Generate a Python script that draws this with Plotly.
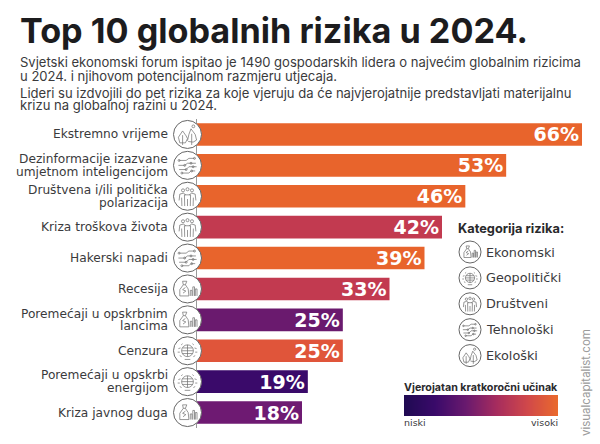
import plotly.graph_objects as go

W, H = 600, 444

rizici = [
    "Ekstremno vrijeme",
    "Dezinformacije izazvane\numjetnom inteligencijom",
    "Društvena i/ili politička\npolarizacija",
    "Kriza troškova života",
    "Hakerski napadi",
    "Recesija",
    "Poremećaji u opskrbnim\nlancima",
    "Cenzura",
    "Poremećaji u opskrbi\nenergijom",
    "Kriza javnog duga",
]
postotci = [66, 53, 46, 42, 39, 33, 25, 25, 19, 18]
boje = ["#E8642C", "#E8642C", "#E8642C", "#C23A50", "#E8642C",
        "#C23A50", "#6A1A6E", "#E0553A", "#3A0A6A", "#6E1A72"]
ikone = ["eko", "teh", "dru", "dru", "teh", "ekn", "ekn", "geo", "geo", "ekn"]

kategorije = ["Ekonomski", "Geopolitički", "Društveni", "Tehnološki", "Ekološki"]
kategorije_ikone = ["ekn", "geo", "dru", "teh", "eko"]

podnaslov = [
    "Svjetski ekonomski forum ispitao je 1490 gospodarskih lidera o najvećim globalnim rizicima",
    "u 2024. i njihovom potencijalnom razmjeru utjecaja.",
    "Lideri su izdvojili do pet rizika za koje vjeruju da će najvjerojatnije predstavljati materijalnu",
    "krizu na globalnoj razini u 2024.",
]
gradijent = [0, 1, 2, 3, 4, 5]
gradijent_boje = ["#1F0A52", "#3A0A6A", "#6A1A6E", "#A62C5E", "#D0484A", "#EA6A2C"]

FONT = "Inter"
WIDE = "DejaVu Sans"
TEXT = "#3a3a3c"
GREY = "#6b6b6b"


def px_x(x):
    return x / W


def px_y(y):
    return 1 - y / H


def text(x, y, s, size, color=TEXT, bold=False, anchor="left", family=FONT, **kw):
    if bold:
        s = "<b>" + s + "</b>"
    return dict(xref="paper", yref="paper", x=px_x(x), y=px_y(y), text=s, showarrow=False,
                xanchor=anchor, yanchor="middle", font=dict(family=family, size=size, color=color), **kw)


def path_shape(cx, cy, r, segs):
    # segs su kratke crte u jedinicama polumjera kruga
    out = []
    for seg in segs:
        d = ""
        for i, (a, b) in enumerate(seg):
            d += ("M" if i == 0 else "L") + f"{px_x(cx + a * r):.5f},{px_y(cy + b * r):.5f} "
        out.append(d)
    return dict(type="path", xref="paper", yref="paper", path=" ".join(out),
                line=dict(color=GREY, width=0.7), layer="above")


def dot(cx, cy, r):
    return dict(type="circle", xref="paper", yref="paper", x0=px_x(cx - r), x1=px_x(cx + r),
                y0=px_y(cy + r), y1=px_y(cy - r), line=dict(color=GREY, width=0.7), layer="above")


def icon(kind, cx, cy, r):
    sh = [dict(type="circle", xref="paper", yref="paper", x0=px_x(cx - r), x1=px_x(cx + r),
               y0=px_y(cy + r), y1=px_y(cy - r), fillcolor="white",
               line=dict(color="#666666", width=1), layer="above")]
    if kind == "eko":
        sh.append(path_shape(cx, cy, r, [
            [(-.15, .6), (-.55, .6), (-.65, .2), (-.35, -.25), (-.1, .1), (0, .3), (-.15, .6)],
            [(-.35, .75), (-.35, .05)],
            [(.3, .75), (.3, -.05)],
            [(.0, .45), (.1, .0), (.25, -.4), (.55, 0), (.65, .4), (.4, .55), (.05, .5)],
        ]))
        sh.append(dot(cx + .42 * r, cy - .58 * r, .1 * r))
    elif kind == "teh":
        sh.append(path_shape(cx, cy, r, [
            [(-.6, -.35), (-.1, -.35), (.1, -.5), (.5, -.5)],
            [(-.65, .0), (-.2, .0), (.0, -.15), (.6, -.15)],
            [(-.6, .3), (-.1, .3), (.1, .1), (.65, .1)],
            [(-.4, .55), (.1, .55), (.25, .4), (.55, .4)],
        ]))
        for a, b in [(-.6, -.35), (.5, -.5), (-.2, 0), (.25, -.15), (-.1, .3), (.4, .1), (-.4, .55), (.3, .4)]:
            sh.append(dot(cx + a * r, cy + b * r, .07 * r))
    elif kind == "dru":
        for a in (-.32, 0, .32):
            b = -.5 if a == 0 else -.42
            sh.append(dot(cx + a * r, cy + b * r, .11 * r))
        sh.append(path_shape(cx, cy, r, [
            [(-.6, .3), (-.55, -.15), (-.3, -.22), (-.12, -.1)],
            [(.6, .3), (.55, -.15), (.3, -.22), (.12, -.1)],
            [(-.2, .7), (-.22, -.1), (.22, -.1), (.2, .7)],
            [(-.4, .7), (-.42, .1)],
            [(.4, .7), (.42, .1)],
            [(0, .7), (0, .2)],
        ]))
    elif kind == "ekn":
        sh.append(path_shape(cx, cy, r, [
            [(-.35, -.55), (-.05, -.55), (-.15, -.3), (.05, .0), (.1, .5), (-.55, .5), (-.55, .05), (-.3, -.3), (-.35, -.55)],
            [(-.3, -.3), (-.15, -.3)],
            [(-.15, -.1), (-.35, .05), (-.12, .15), (-.32, .3)],
            [(.2, .5), (.2, .1), (.32, .1), (.32, .5)],
            [(.38, .5), (.38, -.15), (.5, -.15), (.5, .5)],
            [(.56, .5), (.56, .0), (.68, .0), (.68, .5)],
        ]))
    else:
        sh.append(dot(cx, cy, .42 * r))
        sh.append(path_shape(cx, cy, r, [
            [(-.42, 0), (.42, 0)],
            [(0, -.42), (0, .42)],
            [(-.36, -.2), (.36, -.2)],
            [(-.36, .2), (.36, .2)],
            [(-.7, .1), (-.55, .1)], [(-.65, -.15), (-.5, -.2)], [(-.55, .35), (-.42, .42)], [(-.45, -.42), (-.35, -.5)],
            [(.7, .1), (.55, .1)], [(.65, -.15), (.5, -.2)], [(.55, .35), (.42, .42)], [(.45, -.42), (.35, -.5)],
            [(-.2, .62), (.2, .62)],
        ]))
    return sh


# os px: traka 0-66 % ide od x=197 do x=582
BAR_X0 = 197
PX_PO_POSTOTKU = 385 / 66
TOP, BOTTOM = 119, 428
RED = (BOTTOM - TOP) / len(rizici)

fig = go.Figure()
y_pos = list(range(len(rizici)))
fig.add_trace(go.Bar(
    y=y_pos, x=postotci, orientation="h",
    marker=dict(color=boje, line=dict(width=0)),
    text=[f"{p}%" for p in postotci],
    textposition="inside", insidetextanchor="end", textangle=0, constraintext="none",
    textfont=dict(family=WIDE, size=19, color="white", weight="bold"),
    cliponaxis=False, hoverinfo="skip",
))
fig.add_trace(go.Heatmap(
    z=[gradijent, gradijent], x=gradijent, y=[0, 1], xaxis="x2", yaxis="y2",
    colorscale=[[v / gradijent[-1], c] for v, c in zip(gradijent, gradijent_boje)],
    showscale=False, zsmooth="best", hoverinfo="skip",
))

annotations = [
    text(18, 31, "Top 10 globalnih rizika u 2024.", 34.2, color="#1c1c1e", bold=True),
    text(456, 228, "Kategorija rizika:", 12.8, color="#2a2a2c", bold=True),
    text(402, 387, "Vjerojatan kratkoročni učinak", 10.7, color="#2a2a2c", bold=True),
    text(402, 422, "niski", 9.5, family=WIDE),
    text(560, 422, "visoki", 9.5, anchor="right", family=WIDE),
    text(586, 383, "visualcapitalist.com", 11.5, color="#9a9a9a", anchor="center", textangle=-90),
]
for y, s in zip([62.5, 75.5, 92.5, 105.5], podnaslov):
    annotations.append(text(18, y, s, 13.05))

shapes = []
for i, (naziv, kind) in enumerate(zip(rizici, ikone)):
    redovi = naziv.split("\n")
    for j, red in enumerate(redovi):
        annotations.append(dict(
            xref="paper", yref="y", x=px_x(170), y=i, text=red, showarrow=False,
            xanchor="right", yanchor="middle", yshift=(len(redovi) - 1) * 6.3 - j * 12.6,
            font=dict(family=WIDE, size=12.2, color=TEXT),
        ))
    shapes += icon(kind, 187.5, TOP + RED * (i + 0.5), 14)

for i, (naziv, kind) in enumerate(zip(kategorije, kategorije_ikone)):
    cy = 252 + i * 25.9
    shapes += icon(kind, 470, cy, 11)
    annotations.append(text(484, cy, naziv, 12.8, family=WIDE))

fig.update_layout(
    width=W, height=H, margin=dict(l=0, r=0, t=0, b=0), autosize=False,
    paper_bgcolor="white", plot_bgcolor="white", showlegend=False,
    bargap=0.27, uniformtext=dict(mode=False),
    annotations=annotations, shapes=shapes,
    xaxis=dict(domain=[px_x(BAR_X0), 1], range=[0, (W - BAR_X0) / PX_PO_POSTOTKU],
               visible=False, fixedrange=True),
    yaxis=dict(domain=[px_y(BOTTOM), px_y(TOP)], range=[len(rizici) - 0.5, -0.5],
               showticklabels=False, ticks="", showgrid=False, zeroline=False,
               showline=True, linecolor="#999999", linewidth=1, fixedrange=True),
    xaxis2=dict(domain=[px_x(404), px_x(558)], anchor="y2", visible=False,
                range=[gradijent[0], gradijent[-1]], fixedrange=True),
    yaxis2=dict(domain=[px_y(416), px_y(395)], anchor="x2", visible=False,
                range=[0, 1], fixedrange=True),
)

# stranica inace ima rub od 8 px oko grafa
fig.write_html("out.html", config=dict(displayModeBar=False),
               post_script="document.body.style.margin='0';")
